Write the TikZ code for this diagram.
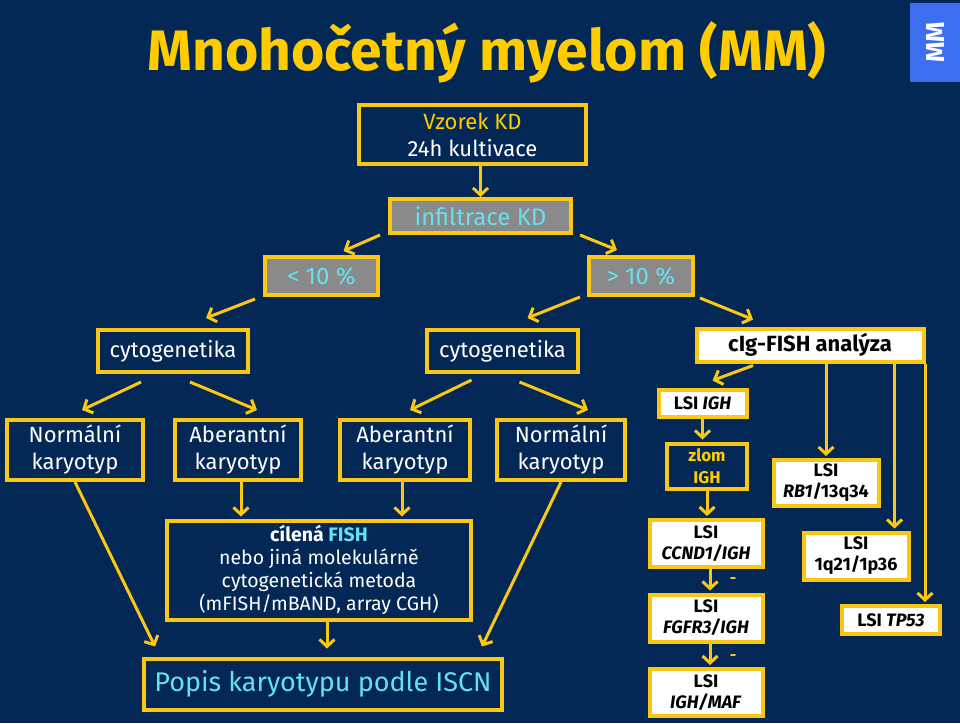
\documentclass[tikz,border=0pt]{standalone}
\usepackage{fontspec}
\setmainfont{Fira Sans}
\usetikzlibrary{arrows.meta,calc,positioning}
\definecolor{pozadi}{RGB}{3,40,86}
\definecolor{zluta}{RGB}{250,200,20}
\definecolor{titulni}{RGB}{255,204,0}
\definecolor{azurova}{RGB}{100,225,240}
\definecolor{sedavypln}{RGB}{138,138,138}
\definecolor{modra}{RGB}{60,110,240}
\tikzstyle{krabice}=[draw=zluta, line width=4pt, align=center, inner sep=0pt]
\tikzstyle{tmavy}=[krabice, fill=pozadi, text=white, font=\fontsize{22}{27}\selectfont]
\tikzstyle{sedy}=[krabice, fill=sedavypln, text=azurova, font=\fontsize{24}{27}\selectfont]
\tikzstyle{bily}=[krabice, fill=white, text=black, font=\fontsize{18}{21}\selectfont\bfseries]
\tikzstyle{sipka}=[every edge/.style={draw=zluta, line width=3pt, -{Straight Barb[length=7pt, width=15pt]}}]
\newcommand{\tmavy}{\node[tmavy]}
\newcommand{\sedy}{\node[sedy]}
\newcommand{\bily}{\node[bily]}

\begin{document}
\begin{tikzpicture}[x=1pt, y=-1pt]
            \fill[pozadi] (0,0) rectangle (960,723);
            \path[use as bounding box] (0,0) rectangle (960,723);
            % nadpis a zalozka
            \node[text=titulni, font=\fontsize{57}{60}\selectfont\bfseries] (titul) at (487,52) {Mnohočetný myelom (MM)};
            \node[fill=modra, rotate=90, minimum width=79, minimum height=50, inner sep=0pt, text=white, font=\fontsize{26}{26}\selectfont\bfseries] (mm) at (935,42.5) {MM};
            % levy strom
            \tmavy[minimum width=227, minimum height=59] (vz) at (472.5,134.5) {\textcolor{titulni}{Vzorek KD}\\24h kultivace};
            \sedy[minimum width=181, minimum height=34] (infil) at (480.5,216) {infiltrace KD};
            \sedy[minimum width=113, minimum height=38] (lt) at (321.5,276) {< 10 \%};
            \sedy[minimum width=104, minimum height=38] (gt) at (641,276) {> 10 \%};
            \tmavy[minimum width=150, minimum height=42] (cytoL) at (173,351) {cytogenetika};
            \tmavy[minimum width=151, minimum height=42] (cytoM) at (502.5,351) {cytogenetika};
            \tmavy[minimum width=136, minimum height=60] (norm1) at (75,450) {Normální\\karyotyp};
            \tmavy[minimum width=126, minimum height=60] (aber1) at (238,450) {Aberantní\\karyotyp};
            \tmavy[minimum width=130, minimum height=60] (aber2) at (405,450) {Aberantní\\karyotyp};
            \tmavy[minimum width=128, minimum height=60] (norm2) at (561,450) {Normální\\karyotyp};
            \tmavy[minimum width=304, minimum height=99, font=\fontsize{19.5}{23}\selectfont] (cilena) at (319,570)
                {\textbf{cílená \textcolor{azurova}{FISH}}\\nebo jiná molekulárně\\cytogenetická metoda\\(mFISH/mBAND, array CGH)};
            \tmavy[minimum width=358, minimum height=51, text=azurova, font=\fontsize{27}{30}\selectfont] (popis) at (323,684) {Popis karyotypu podle ISCN};
            % pravy strom
            \bily[minimum width=227, minimum height=33, font=\fontsize{22}{24}\selectfont\bfseries] (cig) at (810,345) {cIg-FISH analýza};
            \bily[minimum width=88, minimum height=27] (lsiigh) at (702.5,403) {LSI \textit{IGH}};
            \tmavy[minimum width=80, minimum height=45, text=titulni, font=\fontsize{17}{22}\selectfont\bfseries] (zlom) at (707,466) {zlom\\IGH};
            \bily[minimum width=105, minimum height=46] (rb1) at (826,483) {LSI\\\textit{RB1}/13q34};
            \bily[minimum width=113, minimum height=47] (ccnd) at (706,543.5) {LSI\\\textit{CCND1/IGH}};
            \bily[minimum width=113, minimum height=47] (fgfr) at (706,618) {LSI\\\textit{FGFR3/IGH}};
            \bily[minimum width=113, minimum height=47] (maf) at (706,692.5) {LSI\\\textit{IGH/MAF}};
            \bily[minimum width=105, minimum height=47] (q21) at (856,556) {LSI\\1q21/1p36};
            \bily[minimum width=98, minimum height=28] (tp53) at (891,620) {LSI \textit{TP53}};
            \node[text=zluta, font=\fontsize{16}{16}\selectfont\bfseries] (pomlcka1) at (733,580) {-};
            \node[text=zluta, font=\fontsize{16}{16}\selectfont\bfseries] (pomlcka2) at (733,657) {-};
            \coordinate (q21vstup) at ($(q21.north east)+(-16,-2)$);
            \coordinate (tp53vstup) at ($(tp53.north east)+(-17,-2)$);
            \path[sipka]
                (vz.south -| infil.north) edge (infil.north)
                ($(infil.south west)+(-8,0)$) edge ($(lt.north)+(22,-4)$)
                ($(infil.south east)+(7,0)$) edge ($(gt.north)+(-24,-5)$)
                ($(lt.south west)+(-8,2)$) edge ($(cytoL.north)+(33,-10)$)
                ($(gt.south west)+(-7,0)$) edge ($(cytoM.north)+(25,-10)$)
                ($(gt.south east)+(5,1)$) edge ($(cig.north)+(-57,-7)$)
                ($(cytoL.south)+(-32,8)$) edge ($(norm1.north)+(7,-8)$)
                ($(cytoL.south)+(17,8)$) edge ($(aber1.north)+(19,-8)$)
                ($(cytoM.south)+(-31,6)$) edge ($(aber2.north)+(5,-8)$)
                ($(cytoM.south)+(17,8)$) edge ($(norm2.north)+(27,-8)$)
                (norm1.south) edge ($(popis.north west)+(13,-10)$)
                (norm2.south) edge ($(popis.north east)+(-22,-10)$)
                ($(aber1.south)+(3,0)$) edge ($(aber1.south |- cilena.north)+(3,-2)$)
                ($(aber2.south)+(-3,0)$) edge ($(aber2.south |- cilena.north)+(-3,-2)$)
                ($(cilena.south)+(8,0)$) edge ($(cilena.south |- popis.north)+(8,-8)$)
                ($(cig.south)+(-57,2)$) edge ($(lsiigh.north)+(10,-7)$)
                (cig.south -| rb1.north) edge ($(rb1.north)+(0,-2)$)
                (cig.south -| q21vstup) edge (q21vstup)
                (cig.south -| tp53vstup) edge (tp53vstup)
                (lsiigh.south) edge ($(lsiigh.south |- zlom.north)+(0,-2)$)
                (zlom.south) edge ($(zlom.south |- ccnd.north)+(0,-2)$)
                ($(ccnd.south)+(4,0)$) edge ($(ccnd.south |- fgfr.north)+(4,-2)$)
                ($(fgfr.south)+(4,0)$) edge ($(fgfr.south |- maf.north)+(4,-2)$)
            ;
\end{tikzpicture}
\end{document}
